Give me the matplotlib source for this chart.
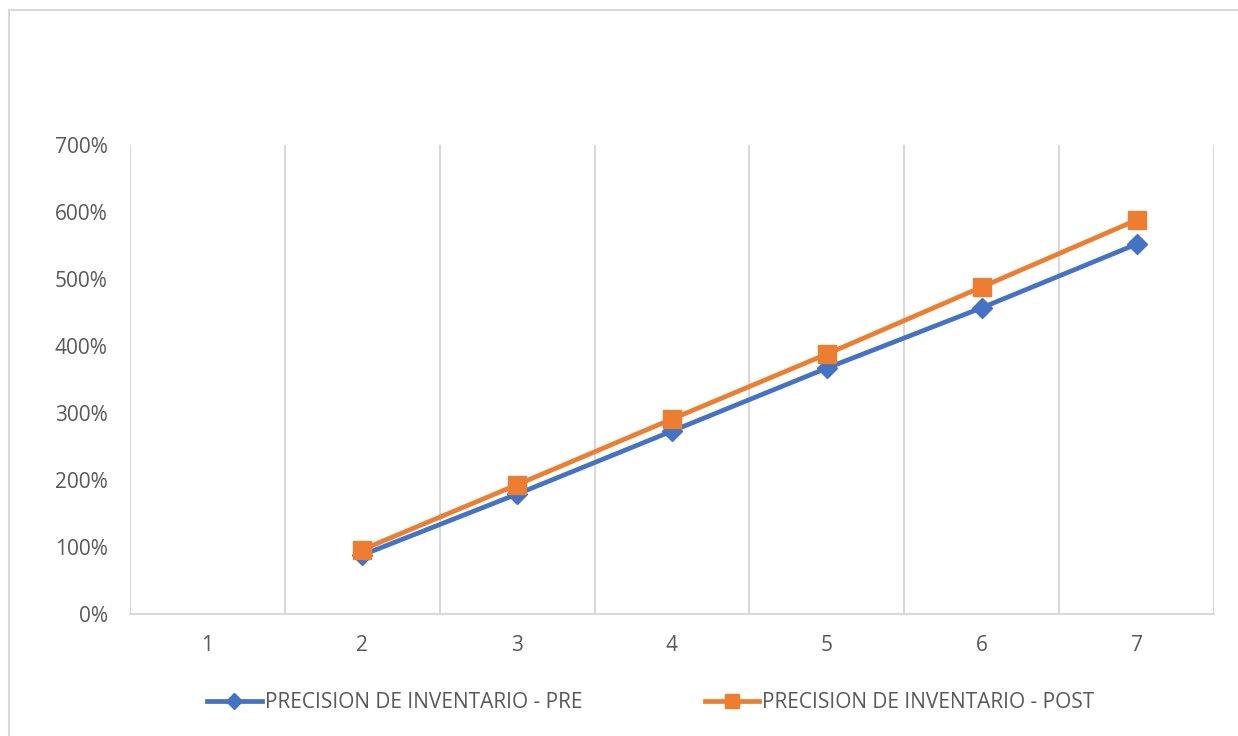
import numpy as np
import matplotlib.pyplot as plt
from matplotlib.patches import Rectangle

plt.rcParams['font.family'] = ['Open Sans', 'DejaVu Sans']

periodos = [1, 2, 3, 4, 5, 6, 7]
pre = [np.nan, 0.88, 1.79, 2.73, 3.67, 4.57, 5.52]
post = [np.nan, 0.96, 1.93, 2.91, 3.88, 4.88, 5.88]

azul = '#4472C4'
naranja = '#ED7D31'
gris_txt = '#595959'
gris_linea = '#D9D9D9'

fig = plt.figure(figsize=(12.38, 7.36), dpi=100)
ax = fig.add_axes([130/1238, 1-614/736, (1214-130)/1238, (614-145)/736])

# marco del grafico
fig.patches.append(Rectangle((9/1238, -0.05), 1.1, 1-10/736+0.05, transform=fig.transFigure,
                             fill=False, edgecolor=gris_linea, lw=1.5))

ax.plot(periodos, pre, color=azul, lw=3.4, marker='D', ms=10.5,
        label='PRECISION DE INVENTARIO - PRE', zorder=3)
ax.plot(periodos, post, color=naranja, lw=3.4, marker='s', ms=12.5,
        label='PRECISION DE INVENTARIO - POST', zorder=4)

ax.set_xlim(0.5, 7.5)
ax.set_ylim(0, 7)
ax.set_xticks(periodos)
ax.set_xticklabels([str(p) for p in periodos])
ax.set_yticks(np.arange(0, 8))
ax.set_yticklabels([f'{int(v*100)}%' for v in np.arange(0, 8)])

# lineas verticales entre categorias
for xb in np.arange(0.5, 8, 1):
    ax.axvline(xb, color=gris_linea, lw=1.5, zorder=1)

for s in ['top', 'right', 'left']:
    ax.spines[s].set_visible(False)
ax.spines['bottom'].set_color(gris_linea)
ax.spines['bottom'].set_linewidth(1.5)

ax.tick_params(axis='both', length=0, labelsize=15, labelcolor=gris_txt)
ax.tick_params(axis='y', pad=16)
ax.tick_params(axis='x', pad=15)

fig.legend(loc='center', bbox_to_anchor=(651/1238, 1-703/736), ncol=2, frameon=False,
           fontsize=15, labelcolor=gris_txt, handlelength=2.6, handletextpad=0.15,
           columnspacing=5.9, markerscale=0.8)

fig.savefig('out.png', dpi=100)
